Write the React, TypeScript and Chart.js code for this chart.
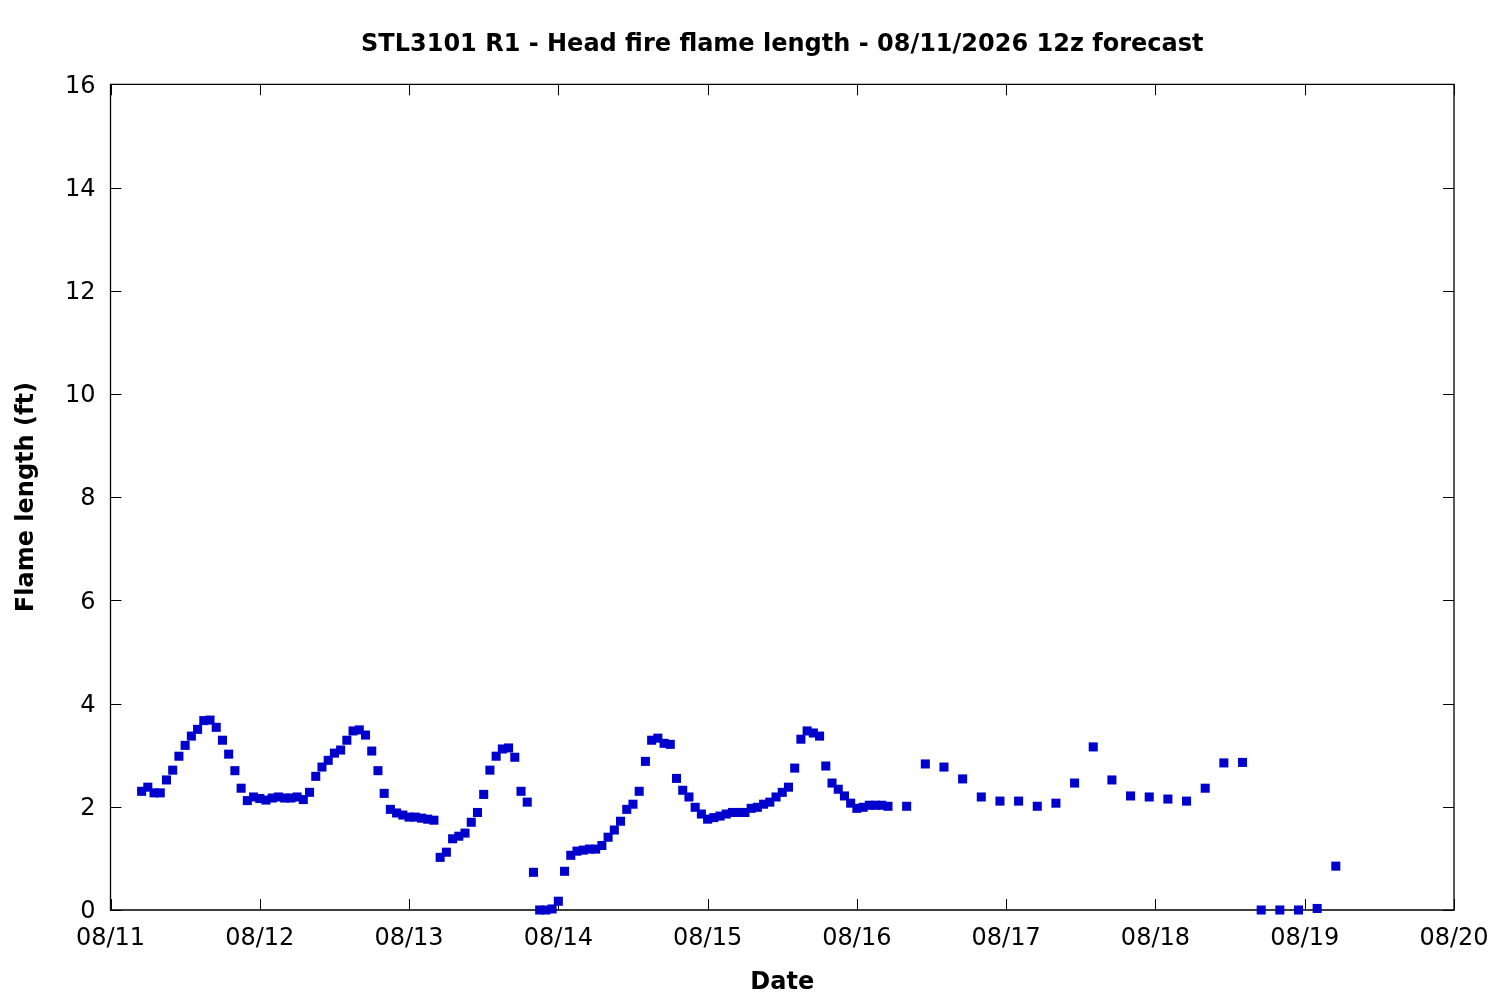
import React, { useEffect, useRef } from "react";
import { Chart, registerables } from "chart.js";

Chart.register(...registerables);

const TITLE = "STL3101 R1 - Head fire flame length - 08/11/2026 12z forecast";
const X_TITLE = "Date";
const Y_TITLE = "Flame length (ft)";

// hours since 08/11 00:00
const hours = [
  5, 6, 7, 8, 9, 10, 11, 12, 13, 14, 15, 16, 17, 18, 19, 20, 21, 22, 23, 24,
  25, 26, 27, 28, 29, 30, 31, 32, 33, 34, 35, 36, 37, 38, 39, 40, 41, 42, 43, 44,
  45, 46, 47, 48, 49, 50, 51, 52, 53, 54, 55, 56, 57, 58, 59, 60, 61, 62, 63, 64,
  65, 66, 67, 68, 69, 70, 71, 72, 73, 74, 75, 76, 77, 78, 79, 80, 81, 82, 83, 84,
  85, 86, 87, 88, 89, 90, 91, 92, 93, 94, 95, 96, 97, 98, 99, 100, 101, 102, 103, 104,
  105, 106, 107, 108, 109, 110, 111, 112, 113, 114, 115, 116, 117, 118, 119, 120, 121, 122, 123, 124,
  125, 128, 131, 134, 137, 140, 143, 146, 149, 152, 155, 158, 161, 164, 167, 170, 173, 176, 179, 182,
  185, 188, 191, 194, 197,
];

const flameLength = [
  2.30, 2.38, 2.27, 2.27, 2.52, 2.71, 2.98, 3.19, 3.37, 3.50, 3.67, 3.68, 3.54, 3.29, 3.02, 2.70, 2.36, 2.12, 2.19, 2.16,
  2.13, 2.17, 2.19, 2.17, 2.17, 2.19, 2.14, 2.28, 2.59, 2.77, 2.90, 3.04, 3.10, 3.29, 3.47, 3.49, 3.39, 3.08, 2.70, 2.26,
  1.95, 1.88, 1.84, 1.80, 1.80, 1.78, 1.76, 1.74, 1.02, 1.12, 1.38, 1.43, 1.49, 1.70, 1.89, 2.24, 2.71, 2.98, 3.12, 3.14,
  2.96, 2.30, 2.09, 0.73, 0.00, 0.00, 0.02, 0.17, 0.75, 1.06, 1.14, 1.16, 1.18, 1.18, 1.25, 1.41, 1.55, 1.72, 1.95, 2.05,
  2.30, 2.88, 3.29, 3.33, 3.23, 3.21, 2.55, 2.32, 2.19, 1.99, 1.86, 1.76, 1.79, 1.82, 1.86, 1.89, 1.89, 1.89, 1.97, 1.99,
  2.05, 2.09, 2.19, 2.28, 2.38, 2.75, 3.31, 3.47, 3.43, 3.37, 2.79, 2.46, 2.34, 2.21, 2.07, 1.97, 1.99, 2.03, 2.03, 2.03,
  2.01, 2.01, 2.83, 2.77, 2.54, 2.19, 2.11, 2.11, 2.01, 2.07, 2.46, 3.16, 2.52, 2.21, 2.19, 2.15, 2.11, 2.36, 2.85, 2.86,
  0.00, 0.00, 0.00, 0.03, 0.85,
];

const dayLabels = ["08/11", "08/12", "08/13", "08/14", "08/15", "08/16", "08/17", "08/18", "08/19", "08/20"];
const yTicks = [0, 2, 4, 6, 8, 10, 12, 14, 16];

const FONT = "'DejaVu Sans', 'Liberation Sans', sans-serif";

const framePlugin = {
  id: "gnuFrame",
  beforeDatasetsDraw(chart: any) {
    const { ctx, chartArea, scales } = chart;
    const { left, right, top, bottom } = chartArea;
    const tl = 11;
    ctx.save();
    ctx.strokeStyle = "#000";
    ctx.lineWidth = 1.3;
    ctx.beginPath();
    ctx.rect(left, top, right - left, bottom - top);
    ctx.stroke();
    ctx.lineWidth = 1;
    ctx.beginPath();
    scales.x.ticks.forEach((t: any) => {
      const px = Math.round(scales.x.getPixelForValue(t.value)) + 0.5;
      ctx.moveTo(px, bottom);
      ctx.lineTo(px, bottom - tl);
      ctx.moveTo(px, top);
      ctx.lineTo(px, top + tl);
    });
    scales.y.ticks.forEach((t: any) => {
      const py = Math.round(scales.y.getPixelForValue(t.value)) + 0.5;
      ctx.moveTo(left, py);
      ctx.lineTo(left + tl, py);
      ctx.moveTo(right, py);
      ctx.lineTo(right - tl, py);
    });
    ctx.stroke();
    ctx.restore();
  },
};

export default function App() {
  const ref = useRef<HTMLCanvasElement | null>(null);

  useEffect(() => {
    document.body.style.margin = "0";
    const canvas = ref.current;
    if (!canvas) return;
    const data = hours.map((h, i) => ({ x: h, y: flameLength[i] }));
    const chart = new Chart(canvas, {
      type: "scatter",
      data: {
        datasets: [
          {
            label: "Flame length",
            data,
            pointStyle: "rect",
            pointRadius: 6.4,
            pointHoverRadius: 6.4,
            pointBorderWidth: 0,
            backgroundColor: "#0000cc",
            borderColor: "#0000cc",
            showLine: false,
            clip: false,
          } as any,
        ],
      },
      options: {
        animation: false,
        responsive: false,
        devicePixelRatio: 1,
        layout: { padding: { left: 0, right: 46, top: 0, bottom: 0 } },
        plugins: {
          legend: { display: false },
          tooltip: { enabled: false },
          title: {
            display: true,
            fullSize: false,
            text: TITLE,
            color: "#000",
            font: { family: FONT, size: 24, weight: "bold" },
            padding: { top: 30, bottom: 25.5 },
          },
        },
        scales: {
          x: {
            type: "linear",
            min: 0,
            max: 216,
            grid: { display: false, drawTicks: false },
            border: { display: false },
            afterBuildTicks: (scale: any) => {
              scale.ticks = dayLabels.map((_, i) => ({ value: i * 24 }));
            },
            afterFit: (scale: any) => {
              scale.height = 90;
              scale.paddingLeft = 0;
              scale.paddingRight = 0;
            },
            ticks: {
              autoSkip: false,
              maxRotation: 0,
              padding: 14,
              color: "#000",
              font: { family: FONT, size: 24 },
              callback: (v: any) => dayLabels[Math.round(Number(v) / 24)],
            },
            title: {
              display: true,
              text: X_TITLE,
              color: "#000",
              font: { family: FONT, size: 24, weight: "bold" },
              padding: { top: 0, bottom: 3 },
            },
          },
          y: {
            type: "linear",
            min: 0,
            max: 16,
            grid: { display: false, drawTicks: false },
            border: { display: false },
            afterBuildTicks: (scale: any) => {
              scale.ticks = yTicks.map((v) => ({ value: v }));
            },
            afterFit: (scale: any) => {
              scale.width = 110.5;
            },
            ticks: {
              autoSkip: false,
              padding: 15,
              labelOffset: 2,
              color: "#000",
              font: { family: FONT, size: 24 },
              callback: (v: any) => String(v),
            },
            title: {
              display: true,
              text: Y_TITLE,
              color: "#000",
              font: { family: FONT, size: 24, weight: "bold" },
              padding: { top: 12, bottom: 0 },
            },
          },
        },
      },
      plugins: [framePlugin],
    });
    return () => chart.destroy();
  }, []);

  return (
    <div style={{ position: "absolute", left: 0, top: 0, width: 1500, height: 1000, background: "#fff" }}>
      <canvas ref={ref} width={1500} height={1000} style={{ width: 1500, height: 1000, display: "block" }} />
    </div>
  );
}
